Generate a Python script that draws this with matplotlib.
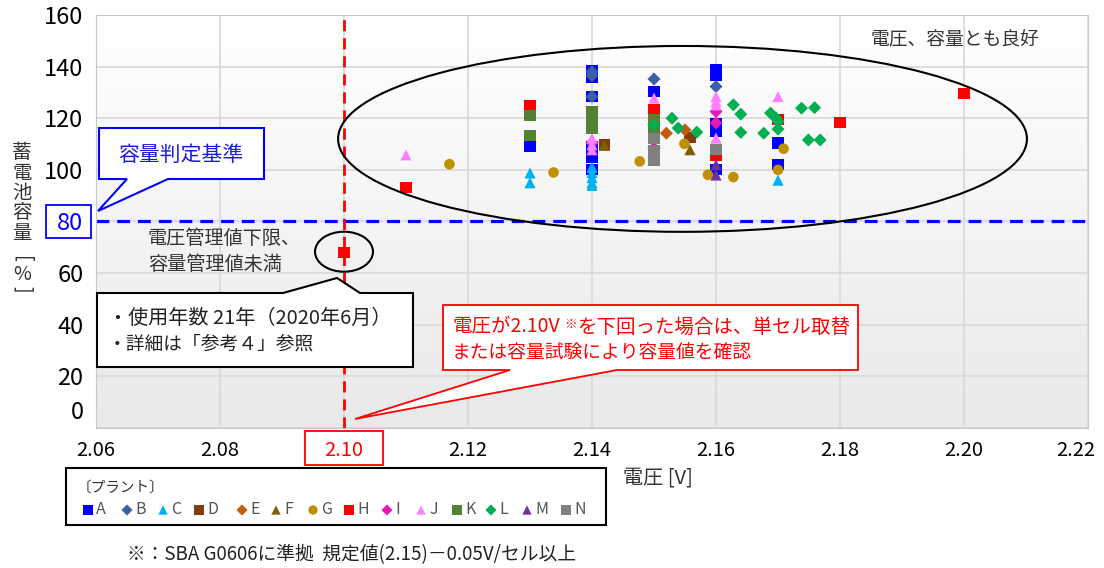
import matplotlib
matplotlib.use("Agg")
import matplotlib.pyplot as plt
import numpy as np
from matplotlib.patches import Ellipse, Polygon, Rectangle
from matplotlib.colors import LinearSegmentedColormap
from matplotlib.transforms import ScaledTranslation

plt.rcParams['font.family'] = ['Noto Sans CJK JP', 'DejaVu Sans']

# plants, marker style and colour (Excel-like legend order)
plants = ['A', 'B', 'C', 'D', 'E', 'F', 'G', 'H', 'I', 'J', 'K', 'L', 'M', 'N']
markers = ['s', 'D', '^', 's', 'D', '^', 'o', 's', 'D', '^', 's', 'D', '^', 's']
colors = ['#0000ff', '#3c5fa8', '#00b0f0', '#843c0c', '#c55a11', '#7f6000', '#bf9000',
          '#ff0000', '#e619b5', '#ff80ff', '#548235', '#00b050', '#7030a0', '#808080']

# voltage [V] / capacity [%] per plant
volt_a = [2.13, 2.14, 2.14, 2.14, 2.14, 2.14, 2.14, 2.15, 2.16, 2.16, 2.16, 2.16, 2.16, 2.17, 2.17]
cap_a = [109, 138.5, 136, 128.4, 109, 105, 100, 130.3, 139, 136.5, 118, 115, 100, 110.4, 102]
volt_b = [2.14, 2.14, 2.14, 2.15, 2.16]
cap_b = [138, 136.5, 128.4, 135.2, 132.3]
volt_c = [2.13, 2.13, 2.14, 2.14, 2.14, 2.14, 2.14, 2.17]
cap_c = [98.8, 95, 101, 99, 97, 95, 94, 96]
volt_d = [2.142, 2.1558]
cap_d = [110, 112.5]
volt_e = [2.152, 2.155]
cap_e = [114.2, 115.5]
volt_f = [2.142, 2.1558]
cap_f = [109.5, 107.8]
volt_g = [2.117, 2.1338, 2.1477, 2.1549, 2.1587, 2.1628, 2.1709, 2.17]
cap_g = [102.2, 99, 103.3, 110.1, 98.1, 97.2, 108.2, 100]
volt_h = [2.10, 2.11, 2.13, 2.15, 2.16, 2.17, 2.18, 2.20]
cap_h = [68, 93, 124.8, 123.3, 105.5, 119.4, 118.5, 129.5]
volt_i = [2.14, 2.15, 2.16, 2.16]
cap_i = [110.5, 108.4, 122.6, 118.2]
volt_j = [2.11, 2.14, 2.14, 2.14, 2.15, 2.16, 2.16, 2.16, 2.16, 2.17]
cap_j = [105.8, 112.3, 109.7, 107.8, 127.8, 128.4, 126.5, 125.2, 112.3, 128.4]
volt_k = [2.13, 2.13, 2.14, 2.14, 2.14, 2.15, 2.15]
cap_k = [120.9, 113.2, 122.6, 119.4, 116.2, 119.4, 115.5]
volt_l = [2.15, 2.1529, 2.1539, 2.1569, 2.1628, 2.164, 2.164, 2.1677, 2.1688, 2.1697,
          2.17, 2.17, 2.1738, 2.1759, 2.1749, 2.1768]
cap_l = [117.4, 120.0, 116.2, 114.6, 125.2, 121.6, 114.5, 114.2, 122, 120, 118.7, 115.8,
         123.9, 124.1, 111.6, 111.6]
volt_m = [2.16, 2.16]
cap_m = [102, 98]
volt_n = [2.15, 2.15, 2.15, 2.16]
cap_n = [112, 107.5, 103.5, 107.8]

volts = [volt_a, volt_b, volt_c, volt_d, volt_e, volt_f, volt_g, volt_h, volt_i, volt_j,
         volt_k, volt_l, volt_m, volt_n]
caps = [cap_a, cap_b, cap_c, cap_d, cap_e, cap_f, cap_g, cap_h, cap_i, cap_j,
        cap_k, cap_l, cap_m, cap_n]

x_ticks = [2.06, 2.08, 2.10, 2.12, 2.14, 2.16, 2.18, 2.20, 2.22]
y_ticks = [0, 20, 40, 60, 80, 100, 120, 140, 160]
v_limit = 2.10
cap_limit = 80

W, H = 1104, 568
fig = plt.figure(figsize=(W / 100, H / 100), dpi=100)
ax = fig.add_axes([96 / W, 1 - 428 / H, (1088 - 96) / W, (428 - 15) / H])

bg = LinearSegmentedColormap.from_list('bg', ['#ffffff', '#e9e9e9'])
ax.imshow(np.linspace(0, 1, 256).reshape(-1, 1), cmap=bg, aspect='auto',
          extent=[x_ticks[0], x_ticks[-1], y_ticks[0], y_ticks[-1]], origin='upper', zorder=0)
ax.set_xlim(x_ticks[0], x_ticks[-1])
ax.set_ylim(y_ticks[0], y_ticks[-1])
ax.set_xticks(x_ticks)
ax.set_yticks(y_ticks)
ax.set_xticklabels([f'{v:.2f}' for v in x_ticks], fontsize=14.5)
ax.set_yticklabels([str(v) for v in y_ticks], fontsize=17)
ax.tick_params(length=0, pad=9)
ax.grid(color='#d9d9d9', lw=1.2)
ax.set_axisbelow(True)
for s in ax.spines.values():
    s.set_color('#c8c8c8')

for lab in ax.get_yticklabels():
    if lab.get_text() == str(cap_limit):
        lab.set_color('#0000ff')
    if lab.get_text() == '0':
        lab.set_transform(lab.get_transform() + ScaledTranslation(0, 0.18, fig.dpi_scale_trans))
for lab in ax.get_xticklabels():
    if lab.get_text() == f'{v_limit:.2f}':
        lab.set_color('#ff0000')
xlabs = ax.get_xticklabels()
xlabs[-1].set_transform(xlabs[-1].get_transform() + ScaledTranslation(-0.12, 0, fig.dpi_scale_trans))

ax.axvline(v_limit, color='#ff0000', lw=2, ls=(0, (4, 2.5)), zorder=2)
ax.axhline(cap_limit, color='#0000ff', lw=2.3, ls=(0, (4, 2.5)), zorder=2)

for v, c, m, col in zip(volts, caps, markers, colors):
    size = 58 if m == 'o' else (44 if m == 'D' else 64)
    ax.scatter(v, c, marker=m, s=size, color=col, edgecolors='none', zorder=3, clip_on=False)

ax.add_patch(Ellipse((2.1546, 112.0), 0.1111, 72, fc='none', ec='black', lw=1.5, zorder=4))
ax.add_patch(Ellipse((2.10, 68.3), 0.00935, 15.5, fc='none', ec='black', lw=1.5, zorder=4))

# overlay in pixel coordinates for callouts, legend and notes
ov = fig.add_axes([0, 0, 1, 1])
ov.set_xlim(0, W)
ov.set_ylim(H, 0)
ov.axis('off')
ov.patch.set_visible(False)

# y label (vertical writing)
for i, ch in enumerate('蓄電池容量'):
    ov.text(22, 153 + i * 20, ch, fontsize=14, ha='center', va='center', color='#333333')
ov.text(22, 259, '[', fontsize=14, ha='center', va='center', rotation=-90, color='#333333')
ov.text(22, 274, '%', fontsize=14, ha='center', va='center', color='#333333')
ov.text(22, 289, ']', fontsize=14, ha='center', va='center', rotation=-90, color='#333333')

ov.text(623, 478, '電圧 [V]', fontsize=14.5, ha='left', va='center', color='#333333')

# boxes around 80 and 2.10
ov.add_patch(Rectangle((46, 205), 45, 33, fc='none', ec='#0000ff', lw=1.3))
ov.add_patch(Rectangle((305, 431), 78, 34, fc='none', ec='#ff0000', lw=1.3))

# blue callout
ov.add_patch(Polygon([(99, 128), (264, 128), (264, 179), (168, 179), (98, 211), (127, 179), (99, 179)],
                     closed=True, fc='white', ec='#0000ff', lw=1.5))
ov.text(181, 155, '容量判定基準', fontsize=15, color='#1a1ae0', ha='center', va='center')

# note for the low point
ov.text(148, 239, '電圧管理値下限、', fontsize=13.8, color='#333333', ha='left', va='center')
ov.text(148, 265, '容量管理値未満', fontsize=13.8, color='#333333', ha='left', va='center')

ov.add_patch(Polygon([(97, 293), (283, 293), (337, 278), (360, 293), (413, 293), (413, 367), (97, 367)],
                     closed=True, fc='white', ec='black', lw=1.5))
ov.text(108, 318, '・使用年数 21年（2020年6月）', fontsize=14.5, color='#222222', ha='left', va='center')
ov.text(108, 344, '・詳細は「参考４」参照', fontsize=13.5, color='#222222', ha='left', va='center')

# red callout
ov.add_patch(Polygon([(443, 305), (858, 305), (858, 370), (617, 370), (355, 419), (510, 370), (443, 370)],
                     closed=True, fc='white', ec='#ff0000', lw=1.3))
t1 = ov.text(452, 327, '電圧が2.10V', fontsize=14, color='#ff0000', ha='left', va='center')
fig.canvas.draw()
r = fig.canvas.get_renderer()
x1 = t1.get_window_extent(r).x1
t2 = ov.text(x1 + 5, 324, '※', fontsize=9, color='#ff0000', ha='left', va='center')
x2 = t2.get_window_extent(r).x1
ov.text(x2, 327, 'を下回った場合は、単セル取替', fontsize=14, color='#ff0000', ha='left', va='center')
ov.text(452, 352, 'または容量試験により容量値を確認', fontsize=13.5, color='#ff0000', ha='left', va='center')

ov.text(955, 40, '電圧、容量とも良好', fontsize=13.5, color='#333333', ha='center', va='center')

# legend
ov.add_patch(Rectangle((66, 468), 540, 57, fc='white', ec='black', lw=1.5))
ov.text(77, 488, '〔プラント〕', fontsize=10.5, color='#333333', ha='left', va='center')
leg_x = [88, 127, 163, 199, 242, 276, 313, 349, 387, 421, 457, 491, 527, 566]
for lx, name, m, col in zip(leg_x, plants, markers, colors):
    ov.scatter([lx], [510], marker=m, s=45 if m != 'D' else 32, color=col, edgecolors='none')
    ov.text(lx + 8, 510, name, fontsize=11.5, color='#555555', ha='left', va='center')

ov.text(127, 555, '※：SBA G0606に準拠  規定値(2.15)－0.05V/セル以上', fontsize=13.5,
        color='#222222', ha='left', va='center')

fig.savefig('out.png', dpi=100)
